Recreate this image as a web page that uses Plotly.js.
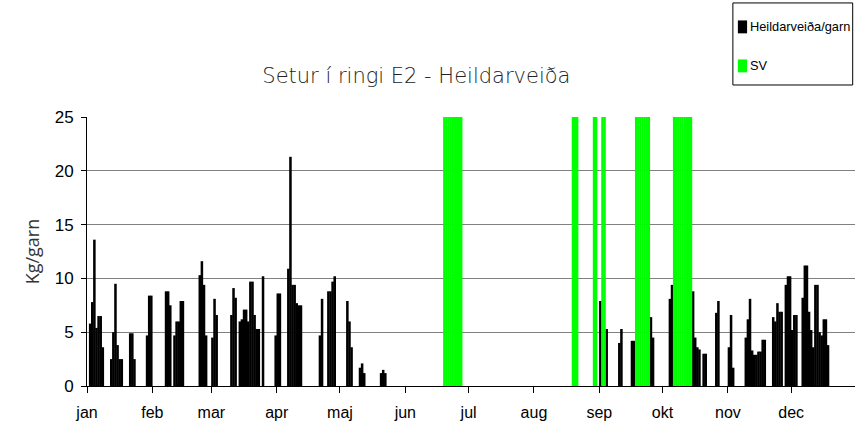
<!DOCTYPE html>
<html><head><meta charset="utf-8">
<script src="https://cdn.plot.ly/plotly-3.0.1.min.js"></script>
<style>html,body{margin:0;padding:0;background:#fff}</style>
</head><body><div id="chart" style="width:855px;height:432px"></div>
<script>
const monthStarts = ['2007-01-01','2007-02-01','2007-03-01','2007-04-01','2007-05-01','2007-06-01','2007-07-01','2007-08-01','2007-09-01','2007-10-01','2007-11-01','2007-12-01'];
const monthLabels = ['jan','feb','mar','apr','maj','jun','jul','aug','sep','okt','nov','dec'];
const yTicks = [0,5,10,15,20,25];

const catchDates = [
'2007-01-02','2007-01-03','2007-01-04','2007-01-05','2007-01-06','2007-01-07','2007-01-08',
'2007-01-12','2007-01-13','2007-01-14','2007-01-15','2007-01-16','2007-01-17',
'2007-01-21','2007-01-22','2007-01-23',
'2007-01-29','2007-01-30','2007-01-31',
'2007-02-07','2007-02-08','2007-02-09',
'2007-02-11','2007-02-12','2007-02-13','2007-02-14','2007-02-15',
'2007-02-23','2007-02-24','2007-02-25','2007-02-26',
'2007-03-01','2007-03-02','2007-03-03',
'2007-03-10','2007-03-11','2007-03-12',
'2007-03-14','2007-03-15','2007-03-16','2007-03-17','2007-03-18','2007-03-19','2007-03-20','2007-03-21','2007-03-22','2007-03-23','2007-03-25',
'2007-03-31','2007-04-01','2007-04-02',
'2007-04-06','2007-04-07','2007-04-08','2007-04-09','2007-04-10','2007-04-11','2007-04-12',
'2007-04-21','2007-04-22',
'2007-04-25','2007-04-26','2007-04-27','2007-04-28',
'2007-05-04','2007-05-05','2007-05-06',
'2007-05-10','2007-05-11','2007-05-12',
'2007-05-20','2007-05-21','2007-05-22',
'2007-09-01','2007-09-04',
'2007-09-10','2007-09-11',
'2007-09-16','2007-09-17',
'2007-09-25','2007-09-26',
'2007-10-04','2007-10-05',
'2007-10-15','2007-10-16','2007-10-17','2007-10-18',
'2007-10-20','2007-10-21',
'2007-10-26','2007-10-27',
'2007-11-01','2007-11-02','2007-11-03',
'2007-11-09','2007-11-10','2007-11-11','2007-11-12','2007-11-13','2007-11-14','2007-11-15','2007-11-16','2007-11-17','2007-11-18',
'2007-11-22','2007-11-23','2007-11-24','2007-11-25','2007-11-26',
'2007-11-28','2007-11-29','2007-11-30','2007-12-01','2007-12-02','2007-12-03',
'2007-12-06','2007-12-07','2007-12-08','2007-12-09','2007-12-10','2007-12-11','2007-12-12','2007-12-13','2007-12-14','2007-12-15','2007-12-16','2007-12-17','2007-12-18'
];
const catchValues = [
5.8,7.8,13.6,5.4,6.5,6.5,3.6,
2.5,5.0,9.5,3.8,2.5,2.5,
4.9,4.9,2.5,
4.7,8.4,8.4,
8.8,8.8,7.5,
4.7,6.0,6.0,7.9,7.9,
10.3,11.6,9.4,4.7,
4.5,8.1,6.6,
6.6,9.1,8.2,
6.0,6.2,7.1,7.1,6.0,9.7,9.7,6.6,5.3,5.3,10.2,
4.7,8.6,8.6,
10.9,21.3,9.4,9.4,7.7,7.5,7.5,
4.7,8.1,
8.8,8.8,9.7,10.2,
7.9,6.0,3.6,
1.7,2.1,1.2,
1.2,1.5,1.2,
7.9,5.3,
4.0,5.3,
4.2,4.2,
6.4,4.5,
8.1,9.4,
8.8,4.5,3.6,3.4,
3.0,3.0,
6.8,7.9,
3.6,6.6,1.7,
4.5,6.2,8.1,3.3,2.9,2.9,3.2,3.2,4.3,4.3,
6.4,6.0,7.7,6.9,6.9,
9.4,10.2,10.2,5.2,6.6,6.6,
8.2,11.2,11.2,6.9,5.2,3.6,9.4,9.4,5.0,4.7,6.2,6.2,3.8
];

const svDates = [
'2007-06-19','2007-06-20','2007-06-21','2007-06-22','2007-06-23','2007-06-24','2007-06-25','2007-06-26','2007-06-27',
'2007-08-19','2007-08-20','2007-08-21',
'2007-08-29','2007-08-30',
'2007-09-02','2007-09-03',
'2007-09-18','2007-09-19','2007-09-20','2007-09-21','2007-09-22','2007-09-23','2007-09-24',
'2007-10-06','2007-10-07','2007-10-08','2007-10-09','2007-10-10','2007-10-11','2007-10-12','2007-10-13','2007-10-14'
];
const svValues = [
25,25,25,25,25,25,25,25,25,
25,25,25,
25,25,
25,25,
25,25,25,25,25,25,25,
25,25,25,25,25,25,25,25,25
];

const seriesNames = ['Heildarveiða/garn','SV'];
const seriesColors = ['#000000','#00ff00'];
const DAY = 86400000;

const traces = [
  {type:'bar', name:seriesNames[0], x:catchDates, y:catchValues, xperiod:DAY, xperiodalignment:'middle',
   width:DAY*1.2, marker:{color:seriesColors[0], line:{width:0}}, showlegend:false, hoverinfo:'x+y'},
  {type:'bar', name:seriesNames[1], x:svDates, y:svValues, xperiod:DAY, xperiodalignment:'middle',
   width:DAY*1.15, marker:{color:seriesColors[1], line:{width:0}}, showlegend:false, hoverinfo:'x+y'}
];

// legend drawn in paper coordinates
const lgX0 = 0.841, lgX1 = 0.997, lgY0 = 1.119, lgY1 = 1.424;
const lgRows = [1.335, 1.19];
const shapes = [
  {type:'rect', xref:'paper', yref:'paper', x0:lgX0, x1:lgX1, y0:lgY0, y1:lgY1, line:{color:'#000', width:1}, fillcolor:'#fff', layer:'above'}
];
const annotations = [];
seriesNames.forEach((n,i)=>{
  shapes.push({type:'rect', xref:'paper', yref:'paper', x0:lgX0+0.0065, x1:lgX0+0.0185, y0:lgRows[i]-0.024, y1:lgRows[i]+0.024,
    line:{width:0}, fillcolor:seriesColors[i], layer:'above'});
  annotations.push({xref:'paper', yref:'paper', x:lgX0+0.0195, y:lgRows[i], xanchor:'left', yanchor:'middle', showarrow:false,
    text:n, font:{family:'Liberation Sans, Arial', size:12.8, color:'#000'}});
});

const layout = {
  width:855, height:432,
  margin:{l:87, r:0, t:117, b:46, pad:0},
  paper_bgcolor:'#fff', plot_bgcolor:'#fff',
  barmode:'overlay',
  showlegend:false,
  title:{text:'Setur í ringi E2 - Heildarveiða', x:0.487, xref:'container', xanchor:'center', y:0.826, yref:'container', yanchor:'middle',
    font:{family:'DejaVu Sans', size:21, weight:300, color:'#222'}},
  xaxis:{type:'date', range:['2007-01-01','2007-12-31 07:00'], tickvals:monthStarts, ticktext:monthLabels,
    ticks:'outside', ticklen:6, tickcolor:'#000', tickwidth:1, showline:true, linecolor:'#000', linewidth:1,
    showgrid:false, zeroline:false, fixedrange:true, ticklabelstandoff:6,
    tickfont:{family:'Liberation Sans, Arial', size:16, color:'#000'}},
  yaxis:{range:[0,25], tickvals:yTicks, ticks:'outside', ticklen:5, tickcolor:'#000', showline:true, linecolor:'#000', linewidth:1,
    showgrid:true, gridcolor:'#808080', gridwidth:1.2, zeroline:false, ticklabelstandoff:4,
    tickfont:{family:'Liberation Sans, Arial', size:17, color:'#000'},
    title:{text:'Kg/garn', font:{family:'Open Sans', size:18, color:'#333'}, standoff:10}},
  shapes:shapes,
  annotations:annotations
};

Plotly.newPlot('chart', traces, layout, {displayModeBar:false, staticPlot:true});
</script>
</body></html>
